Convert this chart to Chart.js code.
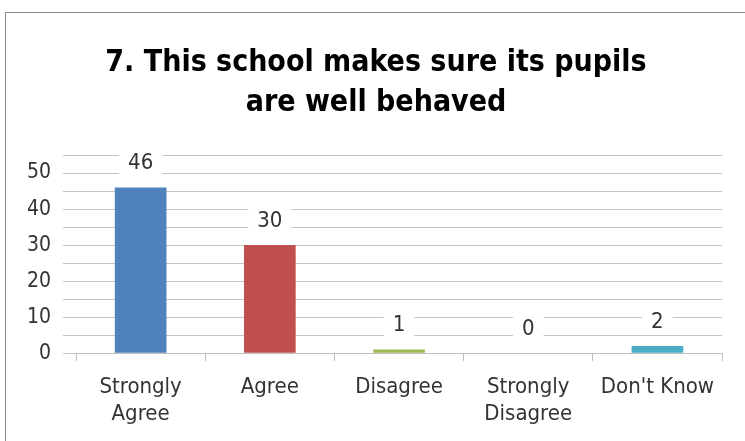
<!DOCTYPE html>
<html>
<head>
<meta charset="utf-8">
<script src="https://cdn.jsdelivr.net/npm/chart.js@4.4.1/dist/chart.umd.min.js"></script>
<style>
    body { margin: 0; background: #fff; }
    #frame { position: absolute; left: 5px; top: 12px; width: 745px; height: 441px; border-left: 1px solid #8a8a8a; border-top: 1px solid #8a8a8a; }
    #wrap { position: absolute; left: 0; top: 0; width: 745px; height: 441px; }
</style>
</head>
<body>
<div id="frame"></div>
<div id="wrap"><canvas id="chart"></canvas></div>
<script>
// 데이터
const categories = [['Strongly', 'Agree'], 'Agree', 'Disagree', ['Strongly', 'Disagree'], "Don't Know"];
const counts = [46, 30, 1, 0, 2];
const barColors = ['#4F81BD', '#C0504D', '#9BBB59', '#8064A2', '#4BACC6'];
const titleLines = ['7. This school makes sure its pupils', 'are well behaved'];

const FONT = "'Liberation Sans Narrow', 'DejaVu Sans Condensed', 'Liberation Sans', sans-serif";

// 제목 그리기
const titlePlugin = {
    id: 'titleLines',
    afterDraw(chart) {
        const ctx = chart.ctx;
        ctx.save();
        ctx.font = 'bold 30px ' + FONT;
        ctx.fillStyle = '#000';
        ctx.textAlign = 'center';
        ctx.textBaseline = 'middle';
        ctx.fillText(titleLines[0], 376, 63);
        ctx.fillText(titleLines[1], 376, 103);
        ctx.restore();
    }
};

// 막대 위 값 라벨 (흰 배경)
const valueLabels = {
    id: 'valueLabels',
    afterDatasetsDraw(chart) {
        const ctx = chart.ctx;
        const meta = chart.getDatasetMeta(0);
        ctx.save();
        ctx.font = '22px ' + FONT;
        ctx.textAlign = 'center';
        ctx.textBaseline = 'middle';
        meta.data.forEach((bar, i) => {
            const text = String(counts[i]);
            const y = bar.y - 24;
            const w = ctx.measureText(text).width + 18;
            ctx.fillStyle = '#fff';
            ctx.fillRect(bar.x - w / 2, y - 13, w, 26);
            ctx.fillStyle = '#333';
            ctx.fillText(text, bar.x, y);
        });
        ctx.restore();
    }
};

new Chart(document.getElementById('chart'), {
    type: 'bar',
    data: {
        labels: categories,
        datasets: [{
            data: counts,
            backgroundColor: barColors,
            categoryPercentage: 1,
            barPercentage: 0.4
        }]
    },
    options: {
        responsive: true,
        maintainAspectRatio: false,
        animation: false,
        layout: { padding: { top: 155, right: 23, left: 15, bottom: 1 } },
        plugins: { legend: { display: false }, tooltip: { enabled: false } },
        scales: {
            x: {
                grid: { offset: true, drawOnChartArea: false, tickLength: 8, color: '#bfbfbf' },
                border: { color: '#bfbfbf' },
                ticks: { color: '#333', font: { family: FONT, size: 22 }, padding: 13 }
            },
            y: {
                min: 0, max: 55,
                grid: { color: '#c4c4c4', tickLength: 13 },
                border: { display: false },
                ticks: {
                    stepSize: 5,
                    autoSkip: false,
                    color: '#333',
                    padding: 12,
                    font: { family: FONT, size: 21 },
                    callback: v => (v % 10 === 0 && v <= 50) ? v : ''
                }
            }
        }
    },
    plugins: [titlePlugin, valueLabels]
});
</script>
</body>
</html>
